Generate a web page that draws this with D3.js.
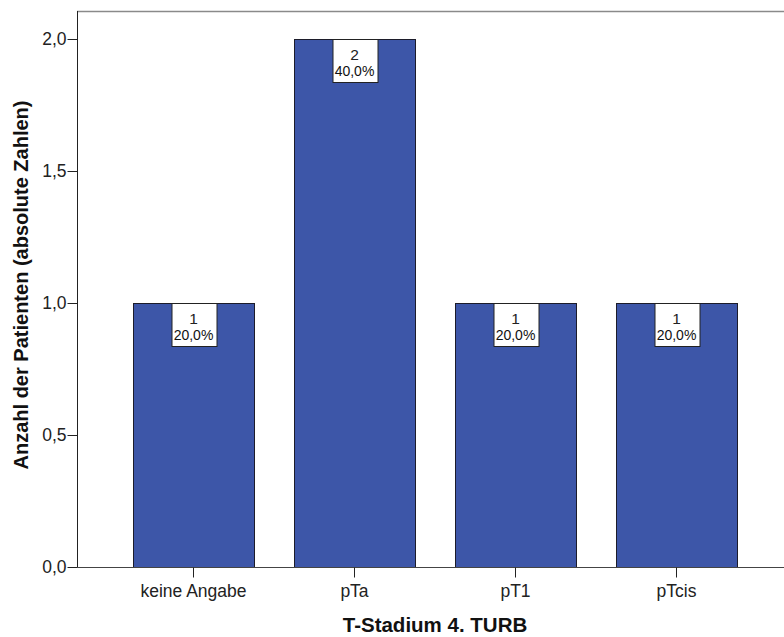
<!DOCTYPE html>
<html><head><meta charset="utf-8">
<script src="https://cdn.jsdelivr.net/npm/d3@7"></script>
<style>
body{margin:0;background:#fff;}
text{font-family:"Liberation Sans",Arial,sans-serif;}
</style></head>
<body>
<svg id="chart" width="784" height="637"></svg>
<script>
// T-stage counts
const categories = ["keine Angabe", "pTa", "pT1", "pTcis"];
const counts = [1, 2, 1, 1];
const percents = ["20,0%", "40,0%", "20,0%", "20,0%"];
const yTicks = [0, 0.5, 1.0, 1.5, 2.0];

const svg = d3.select("#chart");
const plotLeft = 77, plotTop = 11, plotRight = 784, plotBottom = 567;

const x = d3.scaleBand().domain(categories).range([113, 757])
  .paddingInner(0.25).paddingOuter(0.125);
const y = d3.scaleLinear().domain([0, 2]).range([plotBottom, 39]);

const fmt = v => d3.format(".1f")(v).replace(".", ",");

// frame top
svg.append("line").attr("x1", plotLeft).attr("x2", plotRight).attr("y1", plotTop + 0.5).attr("y2", plotTop + 0.5)
  .attr("stroke", "#8a8a8a").attr("stroke-width", 1.5);

// bars
svg.append("g").selectAll("rect").data(categories).join("rect")
  .attr("x", d => Math.round(x(d)) + 0.5)
  .attr("y", (d, i) => Math.round(y(counts[i])) + 0.5)
  .attr("width", Math.round(x.bandwidth()))
  .attr("height", (d, i) => Math.round(y(0)) - Math.round(y(counts[i])))
  .attr("fill", "#3d56a8").attr("stroke", "#1c1c2a").attr("stroke-width", 1);

// y axis
const ya = svg.append("g").attr("transform", `translate(${plotLeft + 0.5},0)`)
  .call(d3.axisLeft(y).tickValues(yTicks).tickFormat(fmt).tickSize(10).tickPadding(1));
ya.select(".domain").attr("d", `M0,${plotTop}V${plotBottom}`).attr("stroke", "#222");
ya.selectAll(".tick line").attr("stroke", "#222");
ya.selectAll("text").attr("font-size", 17.5).attr("fill", "#222");

// x axis
const xa = svg.append("g").attr("transform", `translate(0,${plotBottom + 0.5})`)
  .call(d3.axisBottom(x).tickSize(10));
xa.select(".domain").attr("d", `M${plotLeft},0H${plotRight}`).attr("stroke", "#444");
xa.selectAll(".tick line").attr("stroke", "#222");
xa.selectAll("text").attr("font-size", 17.5).attr("fill", "#222")
  .attr("y", 29.5).attr("dy", null);

// value labels
const lbl = svg.append("g").selectAll("g").data(categories).join("g")
  .attr("transform", (d, i) => `translate(${x(d) + x.bandwidth() / 2},${Math.round(y(counts[i])) + 0.5})`);
lbl.each(function (d, i) {
  const g = d3.select(this);
  const t1 = g.append("text").attr("text-anchor", "middle").attr("y", 20)
    .attr("font-size", 15.5).attr("fill", "#222").text(counts[i]);
  const t2 = g.append("text").attr("text-anchor", "middle").attr("y", 36)
    .attr("font-size", 14).attr("fill", "#111").text(percents[i]);
  const w = Math.max(t1.node().getComputedTextLength(), t2.node().getComputedTextLength()) + 5;
  g.insert("rect", "text").attr("x", Math.round(-w / 2) + 0.5).attr("y", 0)
    .attr("width", Math.round(w)).attr("height", 43)
    .attr("fill", "#fff").attr("stroke", "#222").attr("stroke-width", 1);
});

// axis titles
svg.append("text").attr("x", 435).attr("y", 632)
  .attr("text-anchor", "middle").attr("font-size", 20.5).attr("font-weight", "bold")
  .attr("fill", "#111").text("T-Stadium 4. TURB");
svg.append("text").attr("transform", `translate(28,285) rotate(-90)`)
  .attr("text-anchor", "middle").attr("font-size", 20).attr("font-weight", "bold")
  .attr("fill", "#111").text("Anzahl der Patienten (absolute Zahlen)");
</script>
</body></html>
